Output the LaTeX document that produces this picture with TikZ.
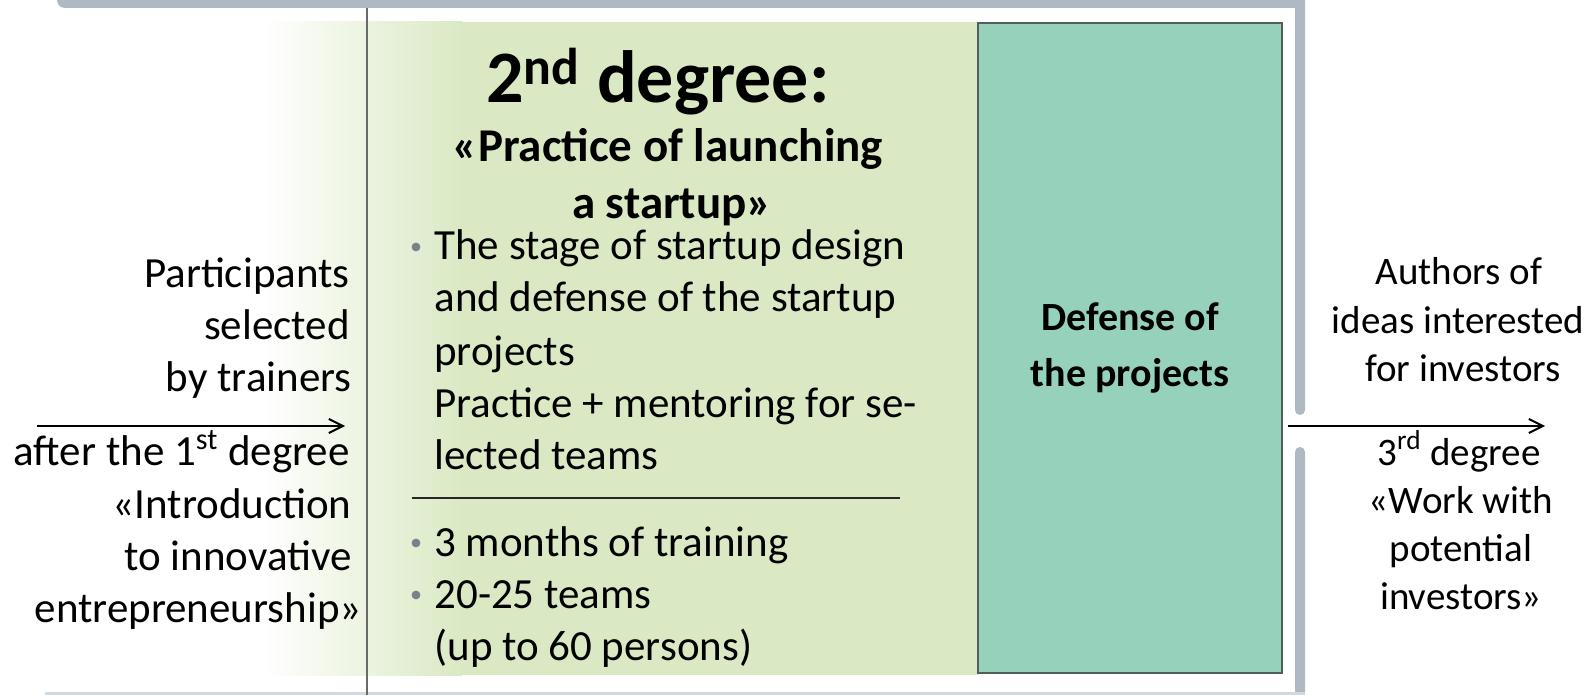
\documentclass[tikz,border=0pt]{standalone}
\usepackage{fontspec}
\setmainfont{Carlito}
\usetikzlibrary{arrows.meta}
\definecolor{framegray}{RGB}{174,185,196}
\definecolor{lightgreen}{RGB}{218,233,196}
\definecolor{defgreen}{RGB}{150,210,187}
\definecolor{boxedge}{RGB}{80,96,88}
\definecolor{bulletgray}{RGB}{120,130,140}
\definecolor{linegray}{RGB}{105,105,105}
\begin{document}
\begin{tikzpicture}[x=0.5pt,y=-0.5pt,
  lefttext/.style={font=\fontsize{21.5}{26}\selectfont, inner sep=0pt, anchor=base east},
  righttext/.style={font=\fontsize{19.5}{24}\selectfont, inner sep=0pt, anchor=base},
  midtext/.style={font=\fontsize{21.5}{26}\selectfont, inner sep=0pt, anchor=base west},
  subtitle/.style={font=\fontsize{23.5}{28}\selectfont\bfseries, inner sep=0pt, anchor=base},
  bdot/.style={circle, fill=bulletgray, inner sep=0pt, minimum size=4.4pt},
  flowarrow/.style={-{Straight Barb[length=7pt,width=7pt,line width=1pt]}, line width=1pt, black}
]
\useasboundingbox (0,0) rectangle (1595,695);
\clip (0,0) rectangle (1595,695);

% green background with gradient
\shade[left color=white, right color=lightgreen] (262,22) rectangle (462,675);
\fill[lightgreen] (461,22) rectangle (979,675);

% frame
\fill[framegray, rounded corners=4pt] (57,-30) rectangle (1305,8);
\fill[framegray, rounded corners=2.5pt] (1295,-10) rectangle (1305,415);
\fill[framegray, rounded corners=2.5pt] (1295,447) rectangle (1305,720);
\fill[framegray!55] (45,692) rectangle (1305,720);

% left vertical line
\coordinate (vtop) at (367,8);
\coordinate (vbot) at (367,695);
\draw[linegray, line width=1.3pt] (vtop) -- (vbot);

% defense box
\node[draw=boxedge, fill=defgreen, line width=1pt, minimum width=152pt, minimum height=325pt,
  inner sep=0pt, align=center, font=\fontsize{20}{28}\selectfont\bfseries] (defense) at (1130,348)
  {Defense of\\the projects};

% title
\node[font=\fontsize{37}{44}\selectfont\bfseries, inner sep=0pt, anchor=base] (title) at (658,103) {2\textsuperscript{nd} degree:};
\node[subtitle] (sub1) at (668,162) {«Practice of launching};
\node[subtitle] (sub2) at (672,219) {a startup»};

% bullet list
\node[bdot] (d1) at (416,247) {};
\node[midtext] (m1) at (434,260) {The stage of startup design};
\node[midtext] (m2) at (434,312) {and defense of the startup};
\node[midtext] (m3) at (434,365) {projects};
\node[midtext] (m4) at (434,417) {Practice + mentoring for se-};
\node[midtext] (m5) at (434,469) {lected teams};
\coordinate (sepL) at (412,498);
\coordinate (sepR) at (900,498);
\draw[black!85, line width=1pt] (sepL) -- (sepR);
\node[bdot] (d2) at (416,543) {};
\node[midtext] (m6) at (434,556) {3 months of training};
\node[bdot] (d3) at (416,595) {};
\node[midtext] (m7) at (434,608) {20-25 teams};
\node[midtext] (m8) at (434,660) {(up to 60 persons)};

% left texts
\node[lefttext] (l1) at (350,287) {Participants};
\node[lefttext] (l2) at (350,339) {selected};
\node[lefttext] (l3) at (352,391) {by trainers};
\node[lefttext] (l4) at (350,465) {after the 1\textsuperscript{st} degree};
\node[lefttext] (l5) at (352,518) {«Introduction};
\node[lefttext] (l6) at (352,570) {to innovative};
\node[lefttext] (l7) at (362,622) {entrepreneurship»};
\coordinate (la) at (37,426);
\coordinate (lb) at (345,426);
\draw[flowarrow] (la) -- (lb);

% right texts
\node[righttext] (r1) at (1459,285) {Authors of};
\node[righttext] (r2) at (1458,333) {ideas interested};
\node[righttext] (r3) at (1463,381) {for investors};
\node[righttext] (r4) at (1459,465) {3\textsuperscript{rd} degree};
\node[righttext] (r5) at (1461,513) {«Work with};
\node[righttext] (r6) at (1461,561) {potential};
\node[righttext] (r7) at (1461,609) {investors»};
\coordinate (ra) at (1288,426);
\coordinate (rb) at (1545,426);
\draw[flowarrow] (ra) -- (rb);
\end{tikzpicture}
\end{document}
